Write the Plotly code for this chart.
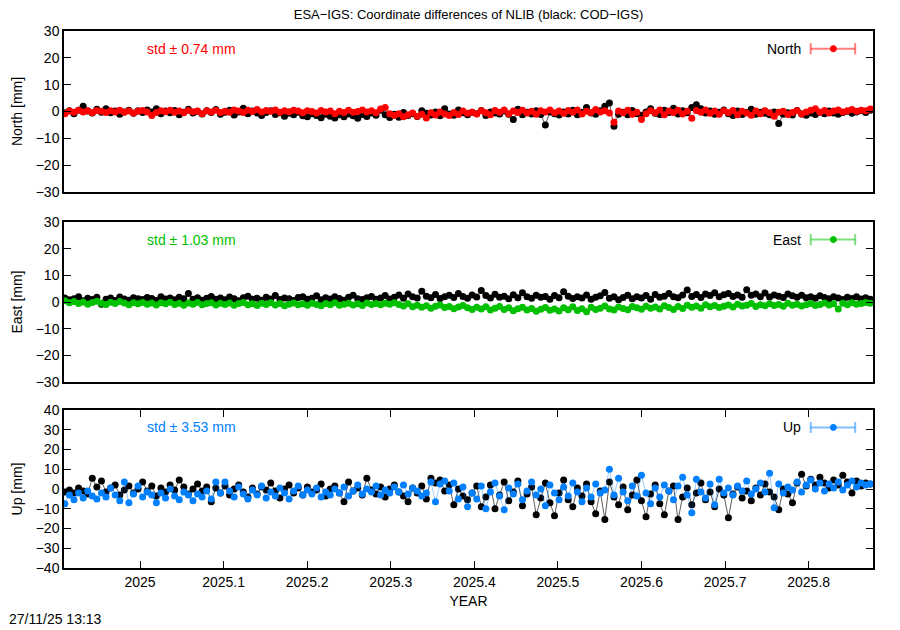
import plotly.graph_objects as go

# one value every 2 days from 2024.910
start_year = 2024.910
step_days = 2

north_cod = [
    -0.5, 0.3, -0.8, 0.5, 2.0, 0.2, -0.6, 0.8, -0.3, 1.0, -0.5, 0.2, -1.0, -0.2, 0.5, -0.7, 0.3,
    -0.4, 0.6, -0.2, 1.0, -0.8, 0.2, -0.5, 0.4, -1.2, -0.3, 0.8, -0.6, 0.1, -0.9, 0.3, -0.4, 0.7, -1.0,
    -0.3, 0.5, -1.3, -0.2, 1.2, -0.8, 0.2, -0.6, -1.5, -0.4, 0.3, -1.1, -0.5, -1.8, -0.7, -1.2, -0.3, -1.6,
    -2.0, -0.8, -1.5, -2.3, -1.0, -1.8, -2.4, -1.2, -2.0, -0.9, -1.6, -2.5, -1.1, -1.9, -0.6, -1.4, 0.5, -1.2, -2.2,
    -1.0, -2.1, -0.4, -1.5, -0.8, -1.9, 0.3, -0.7, -1.3, -0.2, -1.6, 1.0, -0.9, -1.4, 0.6, -0.5, -1.2, -0.3,
    -0.8, 0.4, -1.5, -0.2, -0.6, -0.9, 0.2, -1.0, -3.0, 0.8, -1.2, -0.3, -0.9, 0.3, -1.1, -5.0, -0.2, -0.8,
    -1.3, -0.2, -0.9, 0.5, -1.2, -0.4, 1.5, -0.6, -1.0, 0.3, 2.0, 3.2, -5.5, -1.0, -0.3, -1.2, 0.4, -0.8,
    -1.4, -0.2, 1.0, -0.7, -1.1, 0.5, -0.4, 1.2, -0.9, 0.3, -0.5, 1.5, 2.5, 1.0, -0.6, 0.2, -1.0, -0.3, 0.6,
    -0.8, -1.5, 0.2, -1.1, -0.4, 0.8, -1.0, -0.3, -0.7, -1.2, -0.2, -4.5, -1.0, -0.5, -1.3, 0.4, -0.9, -1.4,
    -0.6, -1.1, -0.3, -0.8, 0.2, -0.6, -1.0, -0.4, 0.1, -0.7, -0.2, 0.3, -0.4, 0.5,
]
north_esa = [
    -0.8, 0.2, -0.3, 0.5, -0.2, 0.3, -0.5, 0.4, 0.1, -0.4, 0.3, -0.2, 0.5, -0.3, 0.2, -0.6, 0.1,
    0.4, -0.2, -1.5, -0.4, 0.3, -0.1, 0.5, -0.3, 0.2, -0.5, 0.4, -0.1, 0.2, -0.8, 0.3, -0.2, 0.5, -0.4,
    0.1, -0.3, 0.6, 0.2, -0.4, 0.5, 0.0, 0.7, -0.2, 0.4, 0.1, 0.6, -0.3, 0.3, -0.1, 0.5, 0.2, -0.5,
    0.3, 0.0, -0.6, 0.4, -0.2, 0.2, -0.8, 0.1, -0.4, 0.5, -0.3, 0.0, 0.6, -0.2, 0.3, -0.5, 0.9, 1.5, -0.8,
    -1.5, -0.8, -2.0, -1.2, -0.6, -1.8, -1.0, -2.4, -0.5, -1.3, -0.2, -0.9, -1.5, -0.4, -1.1, 0.2, -0.7, -0.3,
    -0.9, 0.3, -0.5, -1.2, 0.4, -0.3, 0.6, -0.8, 0.2, -0.4, 0.5, -0.6, 0.1, -1.0, 0.3, -0.2, 0.6, -0.5,
    0.2, -0.7, 0.4, -0.3, 0.6, -0.9, 0.1, -0.4, 0.7, -0.2, 0.3, -0.6, -4.0, 0.2, -0.5, 0.5, -1.0, -0.3,
    -3.0, -0.8, 0.3, -0.5, 0.6, -1.2, 0.2, -0.4, 0.5, -0.9, 0.1, -2.5, 0.4, -0.3, 0.6, -0.7, 0.2, -1.0, 0.3,
    -0.5, 0.4, -1.2, 0.1, -0.6, -1.4, 0.2, -0.8, 0.3, -0.5, -1.8, -0.3, 0.1, -1.1, -0.4, 0.3, -0.9, -0.2,
    0.5, 1.0, -0.3, 0.4, -0.6, 0.2, 0.6, -0.2, 0.3, 0.7, 0.1, 0.5, 0.3, 0.9,
]
east_cod = [
    1.5, 0.8, 1.2, 2.0, 0.5, 1.4, 0.9, 1.8, -0.8, 1.0, 1.5, 0.6, 1.9, 1.1, 0.7, 1.6, 1.2,
    0.9, 1.7, 1.3, 0.6, 2.0, 1.1, 1.5, 0.8, 1.8, 1.2, 3.2, 1.0, 1.6, 0.7, 1.4, 2.1, 1.0, 1.5,
    0.8, 1.9, 1.2, 0.5, 1.6, 2.2, 1.0, 1.4, 0.7, 1.8, 1.1, 2.4, 0.9, 1.5, 1.2, 0.6, 1.7, 2.0,
    1.0, 1.4, 2.3, 0.8, 1.6, 1.1, 2.0, 1.3, 0.7, 1.8, 2.5, 1.2, 0.9, 1.6, 2.1, 1.0, 1.5, 2.4, 1.1,
    1.8, 2.6, 1.4, 3.0, 2.0, 1.5, 4.0, 2.2, 1.6, 2.8, 1.3, 2.0, 2.5, 1.7, 3.2, 2.1, 1.4, 2.6,
    1.9, 4.3, 2.4, 1.5, 2.9, 1.8, 2.2, 1.2, 2.7, 1.6, 3.5, 2.0, 1.4, 2.5, 1.8, 2.1, 1.0, 2.4,
    1.6, 3.8, 2.2, 1.3, 2.0, 1.5, 2.6, 1.0, 1.8, 2.3, 3.6, 1.4, 2.0, 0.8, 1.7, 2.5, 1.2, 2.0,
    1.5, 2.4, 1.0, 2.8, 1.8, 2.2, 3.2, 2.0, 1.6, 2.6, 4.5, 2.1, 2.8, 1.7, 3.0, 2.4, 3.5, 2.0, 2.7,
    3.2, 2.1, 2.6, 1.8, 4.6, 2.5, 3.0, 2.0, 3.4, 1.9, 2.6, 2.2, 1.7, 3.0, 2.3, 1.8, 2.5, 1.6,
    2.0, 1.4, 2.3, 1.7, 1.2, 2.0, 1.5, 0.9, 1.8, 1.3, 2.0, 1.1, 1.6, 1.0,
]
east_esa = [
    0.5, -0.3, 0.2, -0.6, 0.0, -0.8, -0.2, 0.3, -0.5, -0.9, -0.1, -0.6, 0.2, -0.4, -1.0, -0.3, -0.7,
    -0.2, -0.8, -0.4, -1.1, -0.3, -0.7, -0.1, -0.9, -0.5, -1.2, -0.4, -0.8, -0.2, -1.0, -0.6, -0.3, -1.1, -0.5,
    -0.9, -0.4, -1.2, -0.6, -0.2, -1.0, -0.7, -1.3, -0.5, -0.9, -0.3, -1.1, -0.6, -1.4, -0.8, -0.4, -1.0, -0.7,
    -1.2, -0.5, -0.9, -1.4, -0.6, -1.0, -0.3, -1.2, -0.8, -0.5, -1.1, -0.7, -1.3, -0.4, -0.9, -0.6, -1.0, -0.5, -0.8,
    -0.3, -0.9, -1.5, -0.7, -1.8, -1.2, -2.0, -1.4, -2.3, -1.6, -1.1, -2.1, -1.7, -2.5, -1.9, -1.3, -2.2, -2.8,
    -2.0, -2.6, -1.8, -3.0, -2.3, -1.7, -2.8, -2.2, -3.3, -2.5, -2.0, -3.0, -2.4, -3.5, -2.7, -2.1, -3.1, -2.6,
    -3.4, -2.2, -2.9, -1.8, -3.2, -2.5, -3.7, -2.0, -2.8, -2.3, -1.5, -2.6, -3.0, -1.9, -2.4, -2.9, -1.7, -2.2,
    -2.7, -1.6, -2.3, -1.9, -2.6, -1.4, -2.1, -2.8, -1.7, -2.4, -1.2, -2.0, -1.5, -2.3, -1.0, -1.8, -1.3, -2.1, -1.6,
    -1.1, -1.9, -0.8, -1.5, -1.2, -0.6, -1.7, -1.0, -1.4, -0.7, -1.3, -0.9, -1.6, -0.5, -1.2, -0.8, -1.5, -1.0,
    -0.6, -1.3, -0.9, -0.4, -1.1, -0.7, -2.6, -0.5, -1.0, -0.3, -0.8, -0.6, -0.2, -0.5,
]
up_cod = [
    -1.5, -0.5, -2.0, 0.5, -1.0, -2.5, 5.5, 1.0, 4.0, -1.5, 0.5, 2.0, -3.0, -0.5, 1.5, -2.0, 0.0,
    3.5, -1.0, 1.5, -3.5, 0.5, -1.5, 2.0, -0.5, 4.5, 1.0, -2.5, 0.0, 2.5, -1.0, 1.0, -6.5, 0.5, -2.0,
    1.5, -3.0, 0.0, 2.0, -1.5, -4.0, 0.5, -2.5, 1.0, -0.5, 3.0, -1.0, -4.5, 0.0, 2.0, -2.0, 0.5, -3.0,
    1.0, -1.5, -0.5, 2.5, -3.5, 0.0, 1.5, -2.0, -6.5, 3.5, -1.0, 0.5, -3.0, 5.5, -0.5, -2.5, 1.0, -4.0, 0.0,
    2.0, -1.5, -3.5, -6.5, 0.5, -2.0, 1.5, -5.0, 5.5, 3.0, 4.5, -1.0, 2.0, -8.0, 0.0, -3.5, -5.5, -2.0,
    1.5, -9.0, -4.0, 2.0, -10.0, -3.0, 3.5, -6.0, -1.5, 4.0, -8.5, -2.5, 1.0, -13.0, -4.5, 3.0, -7.0, -13.5,
    -2.0, 4.5, -5.5, -9.0, 0.5, -3.5, 2.5, -6.5, -12.5, -1.0, -15.5, 3.5, -4.0, -8.0, 1.0, -10.5, -3.0, 4.5,
    -6.0, -14.0, -2.5, 2.0, -7.5, -13.0, -1.0, 1.5, -15.5, -4.0, 0.5, -8.0, -2.0, 3.0, -5.5, -1.5, -9.0, 0.0, -3.0,
    -14.5, -2.5, 1.0, -4.5, -1.0, -6.0, 0.5, -3.0, 2.5, -1.5, -4.0, -10.5, 0.0, -2.5, -7.0, 3.0, 7.5, 1.5,
    5.0, 2.0, 6.0, 3.0, 0.5, 4.5, 2.0, 7.0, 3.5, -2.0, 4.0, 1.5, 3.0, 2.5,
]
up_esa = [
    -7.5, -3.0, -5.5, -2.0, -4.5, -1.0, -3.5, -5.0, -2.0, -4.0, 0.5, -3.0, -6.0, 3.5, -7.0, -2.5, 1.5,
    -4.0, -1.5, -3.0, -7.0, -2.0, -4.5, 0.0, -3.5, -5.5, -1.5, -3.0, -6.0, -2.5, -4.0, -1.0, -5.0, 3.5, -2.0,
    3.5, -1.0, -4.0, 1.0, -2.5, -5.0, -0.5, -3.0, 1.5, -4.5, -1.5, -3.5, 0.5, -2.0, -5.0, -1.0, 1.5, -3.0,
    -0.5, -2.5, 0.5, -4.0, -1.5, -3.0, 0.0, -2.0, 1.0, -3.5, -1.0, 2.0, -2.5, 0.0, -1.5, 1.5, -3.0, -0.5, -2.0,
    1.0, -1.5, 2.0, -2.5, 0.5, -1.0, -3.5, -2.0, 3.5, -6.5, 2.5, 4.0, -1.0, 3.0, -5.0, 1.0, -9.0, -2.0,
    -5.0, 1.5, -10.0, -1.5, 3.0, -3.5, -10.5, 0.5, -2.5, 2.5, -5.5, -1.0, 3.5, -3.0, 0.0, -8.5, 2.0, -2.0,
    -5.5, 1.0, -3.5, 3.0, -1.5, -6.5, 0.5, -4.0, 2.5, -2.0, -0.5, 10.0, -3.0, 5.5, -1.5, -6.0, 1.5, -3.5,
    7.0, -2.0, -7.5, 0.5, -4.0, 2.0, -1.0, -5.5, 1.5, 6.0, -3.0, -12.0, 5.0, -1.5, -4.5, 2.5, -8.0, 5.0, -2.0,
    0.5, -3.0, 1.5, -1.0, 4.0, -2.5, 0.0, 3.0, -1.5, 8.0, -9.5, 2.5, -2.0, 1.0, -0.5, 3.5, -1.5, 2.0,
    4.5, 0.0, 3.0, -1.0, 2.5, 0.5, 3.5, -0.5, 2.0, 4.0, 1.0, 3.0, 2.0, 2.5,
]

panels = [
    # (component, cod, esa, colour, light colour, std, y range)
    ("North", north_cod, north_esa, "#ff0000", "rgba(255,0,0,0.5)", "0.74", 30),
    ("East", east_cod, east_esa, "#00c000", "rgba(0,192,0,0.5)", "1.03", 30),
    ("Up", up_cod, up_esa, "#0080ff", "rgba(0,128,255,0.5)", "3.53", 40),
]

x_ticks = [2025.0, 2025.1, 2025.2, 2025.3, 2025.4, 2025.5, 2025.6, 2025.7, 2025.8]
x_labels = ["2025", "2025.1", "2025.2", "2025.3", "2025.4", "2025.5", "2025.6", "2025.7", "2025.8"]
x_range = [2024.909, 2025.877]

domains = [[0.7002, 1.0], [0.3464, 0.6443], [0.0, 0.2942]]


def years(values):
    return [start_year + i * step_days / 365.25 for i in range(len(values))]


font = "Liberation Sans, Arial, sans-serif"
fig = go.Figure()
layout = {}
annotations = []
shapes = []

for k, (name, cod, esa, col, light, std, ylim) in enumerate(panels):
    n = "" if k == 0 else str(k + 1)
    xa, ya = "x" + n, "y" + n

    fig.add_trace(go.Scatter(
        x=years(cod), y=cod, xaxis=xa, yaxis=ya, mode="lines+markers",
        line=dict(color="#333333", width=0.8),
        marker=dict(symbol="circle", size=7, color="black"),
        showlegend=False,
    ))
    fig.add_trace(go.Scatter(
        x=years(esa), y=esa, xaxis=xa, yaxis=ya, mode="lines+markers",
        line=dict(color=light, width=0.8),
        marker=dict(symbol="circle", size=7, color=col),
        showlegend=False,
    ))

    bottom = k == 2
    layout["xaxis" + n] = dict(
        domain=[0, 1], anchor=ya, range=x_range,
        showline=True, linecolor="black", linewidth=1.5, mirror="allticks" if bottom else True,
        ticks="inside" if bottom else "", ticklen=7, tickcolor="black",
        tickvals=x_ticks, ticktext=x_labels, showticklabels=bottom,
        showgrid=False, zeroline=False, automargin=False,
        title=dict(text="YEAR" if bottom else "", standoff=8, font=dict(size=14)),
        matches=None if k == 0 else "x",
    )
    layout["yaxis" + n] = dict(
        domain=domains[k], anchor=xa, range=[-ylim, ylim], dtick=10,
        showline=True, linecolor="black", linewidth=1.5, mirror="allticks",
        ticks="inside", ticklen=7, tickcolor="black",
        showgrid=False, zeroline=False, automargin=False,
        title=dict(text=name + " [mm]", standoff=10, font=dict(size=14)),
    )

    ty = 0.89
    annotations.append(dict(
        text="std \u00b1 " + std + " mm", xref=xa + " domain", yref=ya + " domain",
        x=0.1, y=ty, xanchor="left", yanchor="middle", showarrow=False,
        font=dict(color=col, size=14),
    ))
    annotations.append(dict(
        text=name, xref=xa + " domain", yref=ya + " domain",
        x=0.913, y=ty, xanchor="right", yanchor="middle", showarrow=False,
        font=dict(color="black", size=14),
    ))
    # legend key: line with error-bar caps and a dot
    cap = 0.035
    shapes.append(dict(type="line", xref=xa + " domain", yref=ya + " domain",
                       x0=0.923, x1=0.978, y0=ty, y1=ty, line=dict(color=light, width=2)))
    for cx in (0.923, 0.978):
        shapes.append(dict(type="line", xref=xa + " domain", yref=ya + " domain",
                           x0=cx, x1=cx, y0=ty - cap, y1=ty + cap, line=dict(color=light, width=2)))
    shapes.append(dict(type="circle", xref=xa + " domain", yref=ya + " domain",
                       x0=0.951 - 0.0037, x1=0.951 + 0.0037, y0=ty - 0.019, y1=ty + 0.019,
                       fillcolor=col, line=dict(color=col, width=1)))

annotations.append(dict(
    text="27/11/25 13:13", xref="paper", yref="paper", x=-0.07, y=-0.113,
    xanchor="left", yanchor="bottom", showarrow=False, font=dict(size=14, color="black"),
))

# the page body adds an 8px offset, so the figure is 8px smaller than the window
fig.update_layout(
    width=892, height=622,
    margin=dict(l=56, r=27, t=23, b=62, autoexpand=False),
    paper_bgcolor="white", plot_bgcolor="white",
    font=dict(family=font, size=14, color="black"),
    title=dict(text="ESA\u2212IGS: Coordinate differences of NLIB (black: COD\u2212IGS)",
               x=0.5, xanchor="center", xref="paper", y=0.997, yanchor="top", font=dict(size=13)),
    annotations=annotations, shapes=shapes,
    **layout,
)

fig.write_html("out.html")
